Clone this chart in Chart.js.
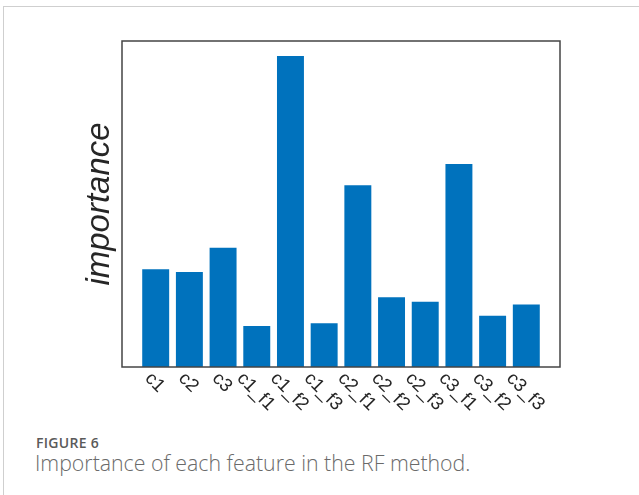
<!DOCTYPE html>
<html>
<head>
<meta charset="utf-8">
<script src="https://cdn.jsdelivr.net/npm/chart.js@4.4.1/dist/chart.umd.min.js"></script>
<style>
  html, body { margin: 0; padding: 0; background: #fff; }
  body { width: 639px; height: 495px; position: relative; overflow: hidden; }
  .frame {
    position: absolute; left: 3px; top: 6px; width: 700px; height: 600px;
    border-top: 1px solid #cfcfcf; border-left: 1px solid #cfcfcf;
  }
  #chartBox { position: absolute; left: 0; top: 0; width: 639px; height: 420px; }
  .fig-label {
    position: absolute; left: 36px; top: 433px;
    font-family: "Open Sans", sans-serif; font-size: 14px; font-weight: 600;
    color: #5a5a5a; letter-spacing: 0.3px; line-height: normal;
  }
  .fig-caption {
    position: absolute; left: 35px; top: 448px;
    font-family: "Open Sans", sans-serif; font-size: 21.3px; font-weight: 300;
    color: #6a6a6a; line-height: normal; white-space: nowrap;
  }
</style>
</head>
<body>
<div class="frame"></div>
<div id="chartBox"><canvas id="importanceChart" width="639" height="420"></canvas></div>
<div class="fig-label">FIGURE 6</div>
<div class="fig-caption">Importance of each feature in the RF method.</div>

<script>
// features and their RF importance
const features = [
  "c1", "c2", "c3",
  "c1_f1", "c1_f2", "c1_f3",
  "c2_f1", "c2_f2", "c2_f3",
  "c3_f1", "c3_f2", "c3_f3",
];
const importance = [
  0.105, 0.102, 0.128,
  0.044, 0.334, 0.047,
  0.195, 0.075, 0.070,
  0.218, 0.055, 0.067,
];
const yMax = 0.35;

const axisColor = "#262626";
const barColor = "#0072BD";

// box around the plot + slanted feature names under each bar
const boxAndLabels = {
  id: "boxAndLabels",
  afterDraw(chart) {
    const { ctx, chartArea } = chart;
    const xScale = chart.scales.x;
    ctx.save();
    ctx.strokeStyle = "#444";
    ctx.lineWidth = 1.5;
    ctx.strokeRect(chartArea.left, chartArea.top,
      chartArea.right - chartArea.left, chartArea.bottom - chartArea.top);

    ctx.fillStyle = axisColor;
    ctx.font = '18.5px "Liberation Sans", Arial, sans-serif';
    ctx.textAlign = "center";
    ctx.textBaseline = "middle";
    const h = 13;
    features.forEach((name, i) => {
      const x = xScale.getPixelForValue(i + 1) - 1;
      const w = ctx.measureText(name).width;
      const y = chartArea.bottom + 4 + ((w + h) * Math.SQRT1_2) / 2;
      ctx.save();
      ctx.translate(x, y);
      ctx.rotate(Math.PI / 4);
      ctx.fillText(name, 0, 0);
      ctx.restore();
    });
    ctx.restore();
  },
};

new Chart(document.getElementById("importanceChart"), {
  type: "bar",
  data: {
    datasets: [
      {
        data: importance.map((v, i) => ({ x: i + 1, y: v })),
        backgroundColor: barColor,
        borderWidth: 0,
        categoryPercentage: 1,
        barPercentage: 0.8,
      },
    ],
  },
  options: {
    responsive: false,
    animation: false,
    layout: {
      padding: { left: 78, right: 79, top: 41, bottom: 3 },
    },
    scales: {
      x: {
        type: "linear",
        min: 0,
        max: 13,
        offset: false,
        grid: { display: false },
        border: { display: false },
        ticks: { display: false },
        afterFit: (scale) => {
          scale.height = 50;
        },
      },
      y: {
        min: 0,
        max: yMax,
        grid: { display: false },
        border: { display: false },
        ticks: { display: false },
        title: {
          display: true,
          text: "importance",
          color: axisColor,
          font: {
            family: '"Liberation Sans", Arial, sans-serif',
            size: 33,
            style: "italic",
            lineHeight: 1,
          },
          padding: { top: 5, bottom: 0 },
        },
        afterFit: (scale) => {
          scale.width = 44;
        },
      },
    },
    plugins: {
      legend: { display: false },
      tooltip: { enabled: false },
    },
  },
  plugins: [boxAndLabels],
});
</script>
</body>
</html>
